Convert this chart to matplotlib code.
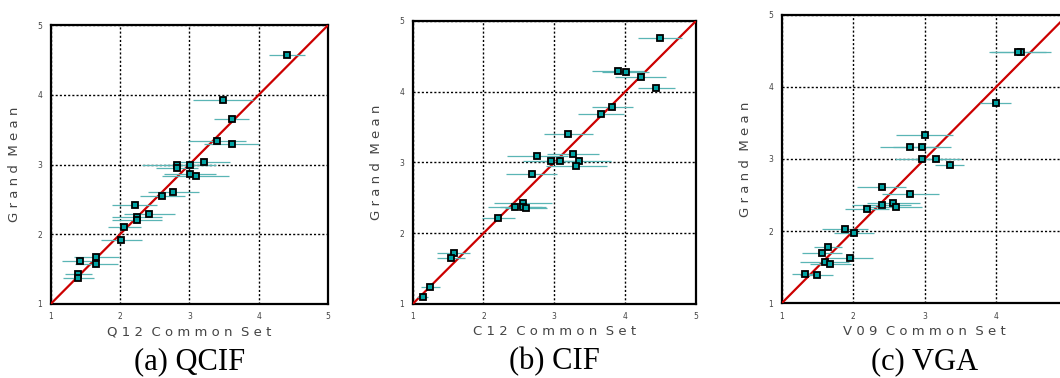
import matplotlib
matplotlib.use("Agg")
import matplotlib.pyplot as plt

# QCIF (Q12 common set)
qcif_x = [4.40, 3.48, 3.61, 3.40, 3.61, 3.21, 2.82, 2.82, 3.01, 3.01, 3.09, 2.77,
          2.61, 2.21, 2.42, 2.25, 2.25, 2.06, 2.02, 1.66, 1.66, 1.42, 1.40, 1.40]
qcif_y = [4.57, 3.93, 3.65, 3.33, 3.30, 3.04, 3.00, 2.95, 2.99, 2.87, 2.83, 2.60,
          2.55, 2.42, 2.29, 2.25, 2.21, 2.11, 1.92, 1.68, 1.57, 1.61, 1.43, 1.37]
qcif_err = [0.26, 0.43, 0.25, 0.42, 0.40, 0.38, 0.50, 0.30, 0.38, 0.38, 0.48, 0.37,
            0.32, 0.32, 0.37, 0.36, 0.36, 0.24, 0.30, 0.33, 0.31, 0.25, 0.19, 0.22]

# CIF (C12 common set)
cif_x = [4.49, 3.90, 4.01, 4.22, 4.44, 3.82, 3.66, 3.20, 2.76, 2.96, 3.08, 3.26,
         3.35, 3.31, 2.68, 2.56, 2.44, 2.56, 2.60, 2.21, 1.58, 1.54, 1.25, 1.14]
cif_y = [4.76, 4.30, 4.28, 4.21, 4.05, 3.79, 3.68, 3.40, 3.09, 3.02, 3.02, 3.12,
         3.02, 2.95, 2.84, 2.43, 2.37, 2.37, 2.36, 2.22, 1.72, 1.65, 1.24, 1.10]
cif_err = [0.31, 0.37, 0.33, 0.36, 0.26, 0.29, 0.32, 0.34, 0.43, 0.40, 0.30, 0.37,
           0.45, 0.43, 0.36, 0.41, 0.38, 0.32, 0.30, 0.23, 0.23, 0.20, 0.13, 0.08]

# VGA (V09 common set)
vga_x = [4.35, 4.30, 3.99, 3.00, 2.80, 2.96, 2.96, 3.16, 3.35, 2.40, 2.80, 2.56,
         2.40, 2.60, 2.19, 1.88, 2.01, 1.65, 1.57, 1.96, 1.60, 1.68, 1.33, 1.49]
vga_y = [4.48, 4.48, 3.77, 3.33, 3.16, 3.16, 3.00, 3.00, 2.91, 2.61, 2.52, 2.39,
         2.36, 2.34, 2.30, 2.03, 1.97, 1.78, 1.70, 1.63, 1.57, 1.55, 1.41, 1.39]
vga_err = [0.42, 0.40, 0.22, 0.40, 0.42, 0.40, 0.38, 0.34, 0.20, 0.34, 0.40, 0.37,
           0.41, 0.36, 0.31, 0.32, 0.28, 0.20, 0.28, 0.32, 0.34, 0.29, 0.19, 0.23]

xlabels = ["Q 1 2  C o m m o n  S e t", "C 1 2  C o m m o n  S e t",
           "V 0 9  C o m m o n  S e t"]
captions = ["(a) QCIF", "(b) CIF", "(c) VGA"]
ticks = [1, 2, 3, 4, 5]

fig = plt.figure(figsize=(10.6, 3.78), dpi=100)

positions = [
    [0.0478, 0.1958, 0.2618, 0.738],
    [0.3893, 0.1958, 0.2673, 0.7487],
    [0.7374, 0.1976, 0.2700, 0.7637],
]
datasets = [(qcif_x, qcif_y, qcif_err), (cif_x, cif_y, cif_err), (vga_x, vga_y, vga_err)]

for i, (pos, (x, y, err), xl, cap) in enumerate(zip(positions, datasets, xlabels, captions)):
    ax = fig.add_axes(pos)
    ax.set_xlim(1, 5)
    ax.set_ylim(1, 5)
    ax.set_xticks(ticks)
    ax.set_yticks(ticks)
    # last panel runs off the right edge, its "5" is not visible
    xt = [str(t) for t in ticks] if i < 2 else ["1", "2", "3", "4", ""]
    ax.set_xticklabels(xt, fontsize=5.5)
    ax.set_yticklabels([str(t) for t in ticks], fontsize=5.5)
    ax.tick_params(length=0, pad=6, colors="#444444")
    ax.grid(True, color="black", linestyle=(0, (1.5, 1.5)), linewidth=1.0)
    for s in ax.spines.values():
        s.set_linewidth(1.6)
        s.set_color("black")

    ax.plot([1, 5], [1, 5], color="#cc0000", linewidth=1.6, zorder=3)
    ax.errorbar(x, y, xerr=err, fmt="none", ecolor="#5ab5b5", elinewidth=0.9,
                capsize=0, zorder=4)
    ax.plot(x, y, linestyle="none", marker="s", markersize=5.0,
            markerfacecolor="#00a3a3", markeredgecolor="black",
            markeredgewidth=1.3, zorder=5)

    ax.set_xlabel(xl, fontsize=9.5, color="#444444", labelpad=3)
    ax.set_ylabel("G r a n d  M e a n", fontsize=9.5, color="#444444", labelpad=12)

    cx = pos[0] + pos[2] / 2
    fig.text(cx, 1 - 362 / 378, cap, ha="center", va="center",
             family="Liberation Serif", fontsize=22)

fig.savefig("out.png", dpi=100)
